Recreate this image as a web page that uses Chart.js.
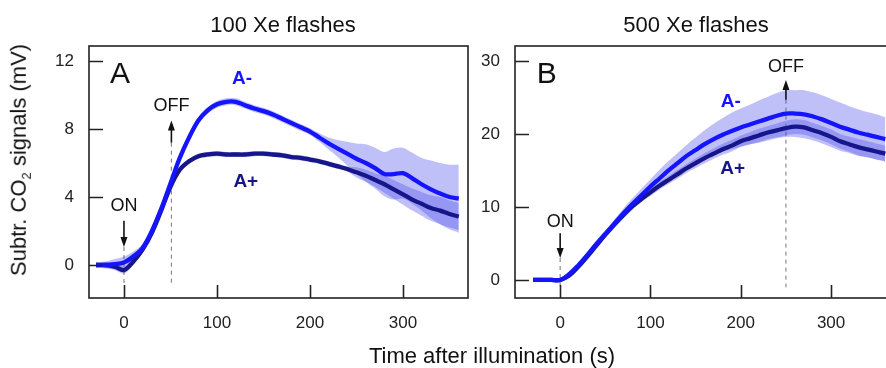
<!DOCTYPE html>
<html>
<head>
<meta charset="utf-8">
<script src="https://cdn.jsdelivr.net/npm/chart.js@4.4.1/dist/chart.umd.min.js"></script>
<style>
  body { margin: 0; background: #fff; font-family: "Liberation Sans", Arial, sans-serif; }
  #wrap { position: relative; width: 886px; height: 368px; overflow: hidden; }
  .box { position: absolute; top: 0; height: 368px; }
  .txt { position: absolute; color: #111; white-space: nowrap; transform: translate(-50%, -50%); }
</style>
</head>
<body>
<div id="wrap">
  <div class="box" style="left:0;width:470px"><canvas id="chartA"></canvas></div>
  <div class="box" style="left:470px;width:430px"><canvas id="chartB"></canvas></div>
  <div class="txt" style="left:283px;top:25px;font-size:22px">100 Xe flashes</div>
  <div class="txt" style="left:696px;top:25px;font-size:22px">500 Xe flashes</div>
  <div class="txt" style="left:492px;top:356px;font-size:22px">Time after illumination (s)</div>
  <div class="txt" style="left:20px;top:160px;font-size:22px;transform:translate(-50%,-50%) rotate(-90deg)">Subtr. CO<sub style="font-size:13px">2</sub> signals (mV)</div>
</div>

<script>
// === Data ===
const timeA = [-30,-20,-10,0,10,20,30,40,50,60,70,80,90,100,110,120,130,140,150,160,170,180,190,200,
  210,220,230,240,250,260,270,280,290,300,310,320,330,340,350,360];
const aMinusA = [0.0,0.0,0.05,0.15,0.5,1.0,2.0,3.3,4.8,6.3,7.5,8.5,9.1,9.45,9.6,9.6,9.4,9.2,9.05,8.85,8.6,8.35,8.1,7.85,
  7.5,7.15,6.85,6.55,6.25,6.0,5.7,5.35,5.35,5.4,5.1,4.75,4.45,4.2,4.0,3.9];
const aPlusA = [0.0,0.0,-0.1,-0.3,0.2,0.9,1.9,3.2,4.6,5.6,6.1,6.4,6.5,6.55,6.5,6.5,6.5,6.55,6.55,6.5,6.45,6.35,6.3,6.2,
  6.1,5.95,5.8,5.65,5.45,5.25,5.0,4.75,4.45,4.15,3.85,3.6,3.35,3.2,3.0,2.85];
const aMinusErrA = [0.15,0.2,0.3,0.35,0.3,0.25,0.2,0.2,0.2,0.2,0.2,0.2,0.2,0.2,0.2,0.2,0.2,0.2,0.2,0.2,0.2,0.2,0.2,0.2,
  0.25,0.35,0.5,0.7,0.9,1.1,1.2,1.3,1.5,1.5,1.5,1.55,1.7,1.8,1.9,2.0];
const aPlusErrA = [0.15,0.15,0.2,0.2,0.2,0.15,0.15,0.15,0.15,0.15,0.15,0.15,0.15,0.15,0.15,0.15,0.15,0.15,0.15,0.15,0.15,0.15,0.15,0.15,
  0.15,0.15,0.15,0.15,0.3,0.35,0.4,0.5,0.55,0.6,0.65,0.7,0.75,0.8,0.8,0.8];

const timeB = [-30,-20,-10,0,10,20,30,40,50,60,70,80,90,100,110,120,130,140,150,160,170,180,190,200,
  210,220,230,240,250,260,270,280,290,300,310,320,330,340,350,360];
const aMinusB = [0,0,0,0,0.8,2.0,3.4,4.9,6.3,7.7,9.1,10.4,11.6,12.8,13.9,15.0,16.0,17.0,17.8,18.6,19.3,19.9,20.4,20.9,
  21.3,21.7,22.1,22.5,22.8,22.8,22.7,22.4,22.0,21.5,21.0,20.6,20.2,19.9,19.6,19.3];
const aPlusB = [0,0,0,0,0.6,1.8,3.2,4.7,6.2,7.6,8.9,10.1,11.1,12.0,12.9,13.7,14.5,15.3,16.0,16.7,17.3,17.9,18.4,19.0,
  19.4,19.8,20.2,20.5,20.8,21.0,20.9,20.5,20.1,19.6,19.0,18.6,18.2,17.9,17.6,17.3];
const aMinusErrB = [0.2,0.2,0.2,0.2,0.3,0.3,0.4,0.5,0.5,0.6,0.7,0.8,0.9,1.0,1.2,1.3,1.4,1.5,1.7,1.9,2.1,2.3,2.5,2.6,
  2.7,2.9,3.0,3.1,3.2,3.2,3.3,3.3,3.3,3.3,3.3,3.2,3.2,3.1,3.1,3.0];
const aPlusErrB = [0.2,0.2,0.2,0.2,0.3,0.3,0.3,0.3,0.35,0.35,0.4,0.4,0.45,0.5,0.5,0.55,0.6,0.6,0.65,0.7,0.7,0.75,0.8,0.8,
  0.85,0.9,0.9,0.95,1.0,1.0,1.0,1.0,1.0,1.0,1.0,1.05,1.1,1.1,1.1,1.1];

const xTicksA = [0, 100, 200, 300];
const yTicksA = [0, 4, 8, 12];
const xTicksB = [0, 100, 200, 300];
const yTicksB = [0, 10, 20, 30];

const BLUE = "#1414ff";
const NAVY = "#16168a";
const BAND = "rgba(70,70,235,0.34)";

Chart.defaults.font.family = '"Liberation Sans", Arial, sans-serif';

// === frame, inward ticks, ON/OFF markers, labels ===
function arrow(ctx, x, yBase, yTip) {
  const dir = yTip > yBase ? 1 : -1;
  ctx.beginPath();
  ctx.moveTo(x, yBase);
  ctx.lineTo(x, yTip - dir * 6);
  ctx.stroke();
  ctx.beginPath();
  ctx.moveTo(x, yTip);
  ctx.lineTo(x - 3.5, yTip - dir * 10);
  ctx.lineTo(x + 3.5, yTip - dir * 10);
  ctx.closePath();
  ctx.fill();
}

const decor = {
  id: "decor",
  beforeDatasetsDraw(chart, args, o) {
    const { ctx, scales: { x, y } } = chart;
    ctx.save();
    ctx.strokeStyle = "#8a8a8a";
    ctx.lineWidth = 1.2;
    ctx.setLineDash([4, 4]);
    o.marks.forEach(m => {
      const px = x.getPixelForValue(m.x);
      ctx.beginPath();
      ctx.moveTo(px, y.getPixelForValue(Math.min(m.from, m.to)));
      ctx.lineTo(px, y.getPixelForValue(m.dashTo));
      ctx.stroke();
    });
    ctx.restore();
  },
  afterDatasetsDraw(chart, args, o) {
    const { ctx, chartArea: a, scales: { x, y } } = chart;
    ctx.save();
    ctx.strokeStyle = "#222";
    ctx.lineWidth = 1.6;
    ctx.strokeRect(a.left, a.top, a.right - a.left, a.bottom - a.top);
    ctx.beginPath();
    o.xTicks.forEach(v => {
      const px = Math.round(x.getPixelForValue(v)) + 0.5;
      ctx.moveTo(px, a.bottom);
      ctx.lineTo(px, a.bottom - 13);
    });
    o.yTicks.forEach(v => {
      const py = Math.round(y.getPixelForValue(v)) + 0.5;
      ctx.moveTo(a.left, py);
      ctx.lineTo(a.left + 14, py);
    });
    ctx.stroke();

    // ON / OFF arrows
    ctx.fillStyle = "#111";
    ctx.strokeStyle = "#111";
    ctx.lineWidth = 1.6;
    ctx.font = '18px "Liberation Sans", Arial, sans-serif';
    ctx.textAlign = "center";
    ctx.textBaseline = "middle";
    o.marks.forEach(m => {
      const px = x.getPixelForValue(m.x);
      arrow(ctx, px, y.getPixelForValue(m.from), y.getPixelForValue(m.to));
      ctx.fillText(m.text, px, y.getPixelForValue(m.textY));
    });

    // series labels
    ctx.font = 'bold 19px "Liberation Sans", Arial, sans-serif';
    o.labels.forEach(l => {
      ctx.fillStyle = l.color;
      ctx.fillText(l.text, x.getPixelForValue(l.x), y.getPixelForValue(l.y));
    });

    // panel letter
    ctx.fillStyle = "#111";
    ctx.font = '30px "Liberation Sans", Arial, sans-serif';
    ctx.textAlign = "left";
    ctx.textBaseline = "alphabetic";
    ctx.fillText(o.letter.text, x.getPixelForValue(o.letter.x), y.getPixelForValue(o.letter.y));
    ctx.restore();
  }
};

function pts(time, vals, err, sign) {
  return time.map((t, i) => ({ x: t, y: vals[i] + (err ? sign * err[i] : 0) }));
}

function lineSet(time, vals, color, order) {
  return { data: pts(time, vals), borderColor: color, borderWidth: 4.3, pointRadius: 0,
    tension: 0.35, fill: false, order };
}

function bandSets(time, vals, err) {
  return [
    { data: pts(time, vals, err, 1), borderWidth: 0, pointRadius: 0, tension: 0.35,
      backgroundColor: BAND, fill: "+1", order: 2 },
    { data: pts(time, vals, err, -1), borderWidth: 0, pointRadius: 0, tension: 0.35,
      fill: false, order: 2 }
  ];
}

function makeChart(id, c) {
  return new Chart(document.getElementById(id), {
    type: "line",
    data: {
      datasets: [
        lineSet(c.time, c.aMinus, BLUE, 0),
        lineSet(c.time, c.aPlus, NAVY, 1),
        ...bandSets(c.time, c.aMinus, c.aMinusErr),
        ...bandSets(c.time, c.aPlus, c.aPlusErr)
      ]
    },
    options: {
      responsive: true,
      maintainAspectRatio: false,
      animation: false,
      devicePixelRatio: 1,
      layout: { padding: { left: 0, top: 46, right: c.padRight, bottom: 0 } },
      plugins: { legend: { display: false }, tooltip: { enabled: false }, decor: c.decor },
      scales: {
        x: {
          type: "linear", min: c.xMin, max: c.xMax,
          grid: { display: false }, border: { display: false },
          ticks: { color: "#222", font: { size: 17 }, padding: 7 },
          afterBuildTicks: s => { s.ticks = c.decor.xTicks.map(v => ({ value: v })); },
          afterFit: s => { s.height = 70; }
        },
        y: {
          type: "linear", min: c.yMin, max: c.yMax,
          grid: { display: false }, border: { display: false },
          ticks: { color: "#222", font: { size: 17 }, padding: 7 },
          afterBuildTicks: s => { s.ticks = c.decor.yTicks.map(v => ({ value: v })); },
          afterFit: s => { s.width = c.yWidth; }
        }
      }
    },
    plugins: [decor]
  });
}

makeChart("chartA", {
  time: timeA, aMinus: aMinusA, aPlus: aPlusA, aMinusErr: aMinusErrA, aPlusErr: aPlusErrA,
  xMin: -37.6, xMax: 369.9, yMin: -1.94, yMax: 12.88, yWidth: 89, padRight: 2,
  decor: {
    xTicks: xTicksA, yTicks: yTicksA,
    letter: { text: "A", x: -15, y: 10.7 },
    labels: [{ text: "A-", x: 127, y: 10.94, color: BLUE }, { text: "A+", x: 131, y: 4.88, color: NAVY }],
    marks: [
      { text: "ON", x: 0, textY: 3.45, from: 2.6, to: 1.06, dashTo: -1.06 },
      { text: "OFF", x: 51, textY: 9.35, from: 7.2, to: 8.5, dashTo: -1.06 }
    ]
  }
});

makeChart("chartB", {
  time: timeB, aMinus: aMinusB, aPlus: aPlusB, aMinusErr: aMinusErrB, aPlusErr: aPlusErrB,
  xMin: -50, xMax: 363, yMin: -2.47, yMax: 32.05, yWidth: 45, padRight: 12,
  decor: {
    xTicks: xTicksB, yTicks: yTicksB,
    letter: { text: "B", x: -25.8, y: 27.0 },
    labels: [{ text: "A-", x: 189, y: 24.4, color: BLUE }, { text: "A+", x: 191, y: 15.2, color: NAVY }],
    marks: [
      { text: "ON", x: 0, textY: 7.9, from: 6.4, to: 3.0, dashTo: -1.0 },
      { text: "OFF", x: 250, textY: 29.2, from: 24.7, to: 27.4, dashTo: -1.0 }
    ]
  }
});
</script>
</body>
</html>
